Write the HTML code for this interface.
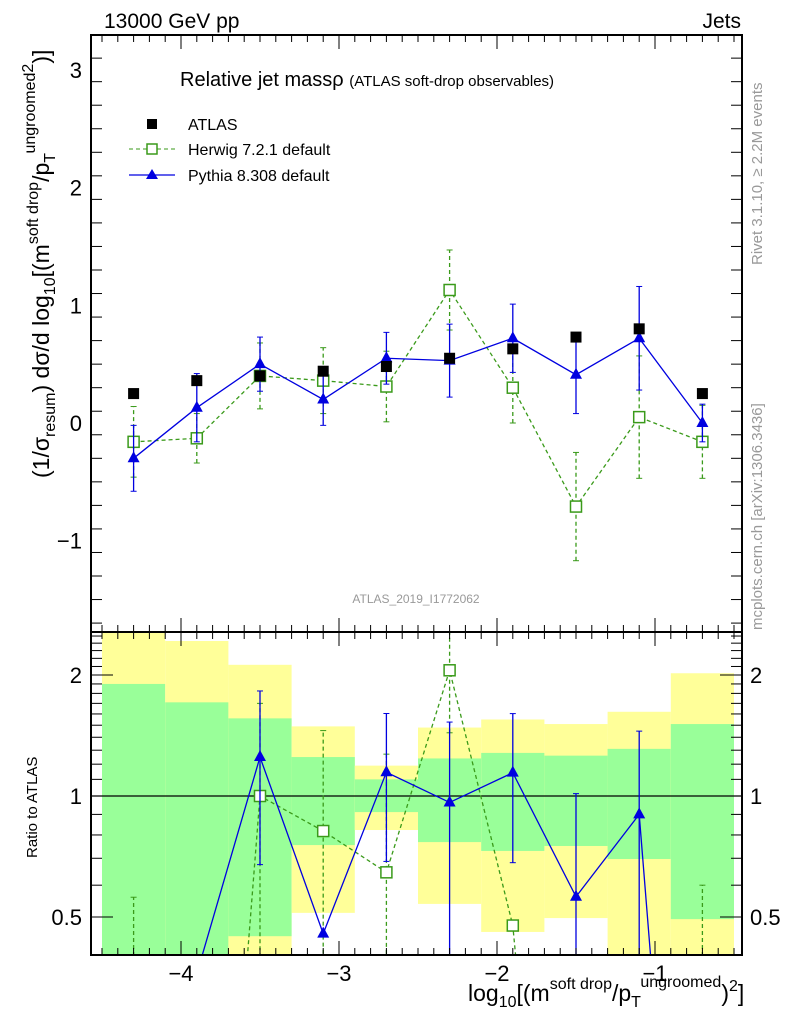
<!DOCTYPE html>
<html><head><meta charset="utf-8">
<style>
html,body{margin:0;padding:0;background:#fff;overflow:hidden;width:786px;height:1024px;}
svg{display:block;font-family:"Liberation Sans",sans-serif;}
</style></head>
<body>
<svg id="chart" width="786" height="1024" viewBox="0 0 786 1024" xmlns="http://www.w3.org/2000/svg">
<defs>
<clipPath id="clipMain"><rect x="91" y="35" width="651" height="597"/></clipPath>
<clipPath id="clipRatio"><rect x="91" y="632" width="651" height="323"/></clipPath>
</defs>
<g id="ratioBands" clip-path="url(#clipRatio)"></g>
<g id="mainMarks" clip-path="url(#clipMain)"></g>
<g id="ratioMarks" clip-path="url(#clipRatio)"></g>
<g id="axes"></g>
<rect x="91" y="35" width="651" height="597" fill="none" stroke="#000" stroke-width="2"/>
<rect x="91" y="632" width="651" height="323" fill="none" stroke="#000" stroke-width="2"/>
<text x="104" y="28" font-size="21">13000 GeV pp</text>
<text x="741" y="28" font-size="21" text-anchor="end">Jets</text>
<text x="180" y="86" font-size="20">Relative jet massρ <tspan font-size="15">(ATLAS soft-drop observables)</tspan></text>
<g>
<g>
<rect x="147" y="119" width="10" height="10" fill="#000"/>
<text x="188" y="130" font-size="16">ATLAS</text></g>
<g>
<line x1="129" y1="149" x2="175" y2="149" stroke="#3a9a1a" stroke-dasharray="4,3"/>
<rect x="147" y="144" width="10" height="10" fill="#fff" stroke="#3a9a1a" stroke-width="1.5"/>
<text x="188" y="155" font-size="16">Herwig 7.2.1 default</text></g>
<g>
<line x1="129" y1="175" x2="175" y2="175" stroke="#0000e0" stroke-width="1.3"/>
<polygon points="152,169 158,179 146,179" fill="#0000e0"/>
<text x="188" y="181" font-size="16">Pythia 8.308 default</text></g>
</g>
<text x="416" y="603" font-size="12" fill="#999" text-anchor="middle">ATLAS_2019_I1772062</text>
<text transform="translate(762,265) rotate(-90)" font-size="15" fill="#999">Rivet 3.1.10, ≥ 2.2M events</text>
<text transform="translate(762,630) rotate(-90)" font-size="15" fill="#999">mcplots.cern.ch [arXiv:1306.3436]</text>
<text transform="translate(49,478) rotate(-90)" font-size="23">(1/σ<tspan font-size="16" dy="6">resum</tspan><tspan dy="-6">) dσ/d log</tspan><tspan font-size="16" dy="6">10</tspan><tspan dy="-6">[(m</tspan><tspan font-size="16" dy="-11">soft drop</tspan><tspan dy="11">/p</tspan><tspan font-size="16" dy="6">T</tspan><tspan font-size="16" dy="-20">ungroomed</tspan><tspan font-size="16" dy="-2">2</tspan><tspan dy="16">)]</tspan></text>
<text transform="translate(37,858) rotate(-90)" font-size="15">Ratio to ATLAS</text>
<text x="468" y="1001" font-size="23">log<tspan font-size="16" dy="6">10</tspan><tspan dy="-6">[(m</tspan><tspan font-size="16" dy="-12">soft drop</tspan><tspan dy="12">/p</tspan><tspan font-size="16" dy="6">T</tspan><tspan font-size="16" dy="-20">ungroomed</tspan><tspan dy="14">)</tspan><tspan font-size="16" dy="-10">2</tspan><tspan dy="10">]</tspan></text>
<script>
const binCenters=[-4.3,-3.9,-3.5,-3.1,-2.7,-2.3,-1.9,-1.5,-1.1,-0.7];
const binWidth=0.4;
const atlasVals=[0.25,0.36,0.40,0.44,0.48,0.55,0.63,0.73,0.80,0.25];
const herwigVals=[-0.16,-0.13,0.40,0.36,0.31,1.13,0.30,-0.71,0.05,-0.16];
const herwigErrs=[0.30,0.21,0.28,0.28,0.30,0.34,0.30,0.46,0.52,0.31];
const pythiaVals=[-0.30,0.13,0.50,0.20,0.55,0.53,0.72,0.41,0.72,0.0];
const pythiaErrs=[0.28,0.29,0.23,0.22,0.22,0.31,0.29,0.33,0.44,0.16];
const bandOuterHi=[2.6,2.43,2.12,1.49,1.19,1.48,1.55,1.51,1.62,2.02];
const bandOuterLo=[0.3,0.3,0.3,0.512,0.823,0.539,0.459,0.497,0.3,0.3];
const bandInnerHi=[1.90,1.71,1.56,1.25,1.10,1.24,1.28,1.26,1.31,1.51];
const bandInnerLo=[0.3,0.3,0.448,0.755,0.912,0.768,0.730,0.751,0.697,0.494];
const xTicks=[-4,-3,-2,-1];
const xTickLabels=["−4","−3","−2","−1"];
const yTicks=[-1,0,1,2,3];
const yTickLabels=["−1","0","1","2","3"];
const rTicks=[0.5,1,2];
const rTickLabels=["0.5","1","2"];

const NS="http://www.w3.org/2000/svg";
function X(v){return 181+(v+4)*158;}
function Y(v){return 423-117.7*v;}
function R(r){return 796-402*Math.log10(Math.max(r,0.01));}
function mk(tag,attrs,parent){const e=document.createElementNS(NS,tag);for(const k in attrs)e.setAttribute(k,attrs[k]);parent.appendChild(e);return e;}
const G=id=>document.getElementById(id);
const bands=G('ratioBands'),mm=G('mainMarks'),rm=G('ratioMarks'),ax=G('axes');

binCenters.forEach((c,i)=>{
  const x0=X(c-binWidth/2),w=X(c+binWidth/2)-x0;
  let r=mk('rect',{x:x0,y:R(bandOuterHi[i]),width:w,height:R(bandOuterLo[i])-R(bandOuterHi[i]),fill:'#ffff99'},bands);
  
  
  r=mk('rect',{x:x0,y:R(bandInnerHi[i]),width:w,height:R(bandInnerLo[i])-R(bandInnerHi[i]),fill:'#99ff99'},bands);
  
  
});
const one=mk('line',{x1:91,x2:742,y1:R(1),y2:R(1),stroke:'#000','stroke-width':1.3},rm);



function series(g,vals,errs,fy,color,dash,marker,name,isLog){
  const pts=binCenters.map((c,i)=>X(c)+','+fy(vals[i])).join(' ');
  const pl=mk('polyline',{points:pts,fill:'none',stroke:color,'stroke-width':1.3},g);
  if(dash)pl.setAttribute('stroke-dasharray',dash);
  
  
  binCenters.forEach((c,i)=>{
    const x=X(c);
    const hide=isLog&&(errs[i][1]<=0||(vals[i]>=0&&errs[i][0]<=0));
    if(!hide){
      const y1=fy(errs[i][0]),y2=fy(errs[i][1]);
      const eb=mk('line',{x1:x,x2:x,y1:y1,y2:y2,stroke:color,'stroke-width':1.3},g);
      if(dash)eb.setAttribute('stroke-dasharray',dash);
      
      
      mk('line',{x1:x-3,x2:x+3,y1:y1,y2:y1,stroke:color},g);
      mk('line',{x1:x-3,x2:x+3,y1:y2,y2:y2,stroke:color},g);
    }
    const y=fy(vals[i]);let m;
    if(marker==='sq'){m=mk('rect',{x:x-5.5,y:y-5.5,width:11,height:11,fill:'#fff',stroke:color,'stroke-width':1.5},g);}
    else{m=mk('polygon',{points:`${x},${y-7} ${x+6},${y+4} ${x-6},${y+4}`,fill:color},g);}
    
    
  });
}
series(mm,herwigVals,herwigVals.map((v,i)=>[v-herwigErrs[i],v+herwigErrs[i]]),Y,'#3a9a1a','4,3','sq','herwig',false);
series(mm,pythiaVals,pythiaVals.map((v,i)=>[v-pythiaErrs[i],v+pythiaErrs[i]]),Y,'#0000e0',null,'tri','pythia',false);
binCenters.forEach((c,i)=>{
  const s=mk('rect',{x:X(c)-5.5,y:Y(atlasVals[i])-5.5,width:11,height:11,fill:'#000'},mm);
  
  
});
const hr=herwigVals.map((v,i)=>v/atlasVals[i]);
const pr=pythiaVals.map((v,i)=>v/atlasVals[i]);
series(rm,hr,hr.map((v,i)=>[v-herwigErrs[i]/atlasVals[i],v+herwigErrs[i]/atlasVals[i]]),R,'#3a9a1a','4,3','sq','herwig-ratio',true);
series(rm,pr,pr.map((v,i)=>[v-pythiaErrs[i]/atlasVals[i],v+pythiaErrs[i]/atlasVals[i]]),R,'#0000e0',null,'tri','pythia-ratio',true);

for(let v=-4.5;v<=-0.45;v+=0.1){
  const x=X(v),maj=Math.abs(v-Math.round(v))<0.01,len=maj?14:7;
  [[35,1],[632,-1],[632,1],[955,-1]].forEach(([y,d])=>mk('line',{x1:x,x2:x,y1:y,y2:y+d*len,stroke:'#000'},ax));
}
xTicks.forEach((v,i)=>{const t=mk('text',{x:X(v),y:981,'font-size':22,'text-anchor':'middle'},ax);t.textContent=xTickLabels[i];
  });
for(let v=-1.7;v<=3.3;v+=0.2){const y=Y(v);if(y<36||y>631)continue;const maj=Math.abs(v-Math.round(v))<0.01,len=maj?22:11;
  mk('line',{x1:91,x2:91+len,y1:y,y2:y,stroke:'#000'},ax);mk('line',{x1:742,x2:742-len,y1:y,y2:y,stroke:'#000'},ax);}
yTicks.forEach((v,i)=>{const t=mk('text',{x:82,y:Y(v)+8,'font-size':22,'text-anchor':'end'},ax);t.textContent=yTickLabels[i];
  });
[0.5,0.6,0.7,0.8,0.9,1,1.1,1.2,1.3,1.4,1.5,1.6,1.7,1.8,1.9,2,2.1,2.2,2.3,2.4,2.5].forEach(v=>{const y=R(v);const maj=rTicks.includes(v),len=maj?22:11;
  mk('line',{x1:91,x2:91+len,y1:y,y2:y,stroke:'#000'},ax);mk('line',{x1:742,x2:742-len,y1:y,y2:y,stroke:'#000'},ax);});
rTicks.forEach((v,i)=>{let t=mk('text',{x:82,y:R(v)+8,'font-size':22,'text-anchor':'end'},ax);t.textContent=rTickLabels[i];
  
  t=mk('text',{x:750,y:R(v)+8,'font-size':22},ax);t.textContent=rTickLabels[i];
  });
</script>
</svg>
</body></html>
